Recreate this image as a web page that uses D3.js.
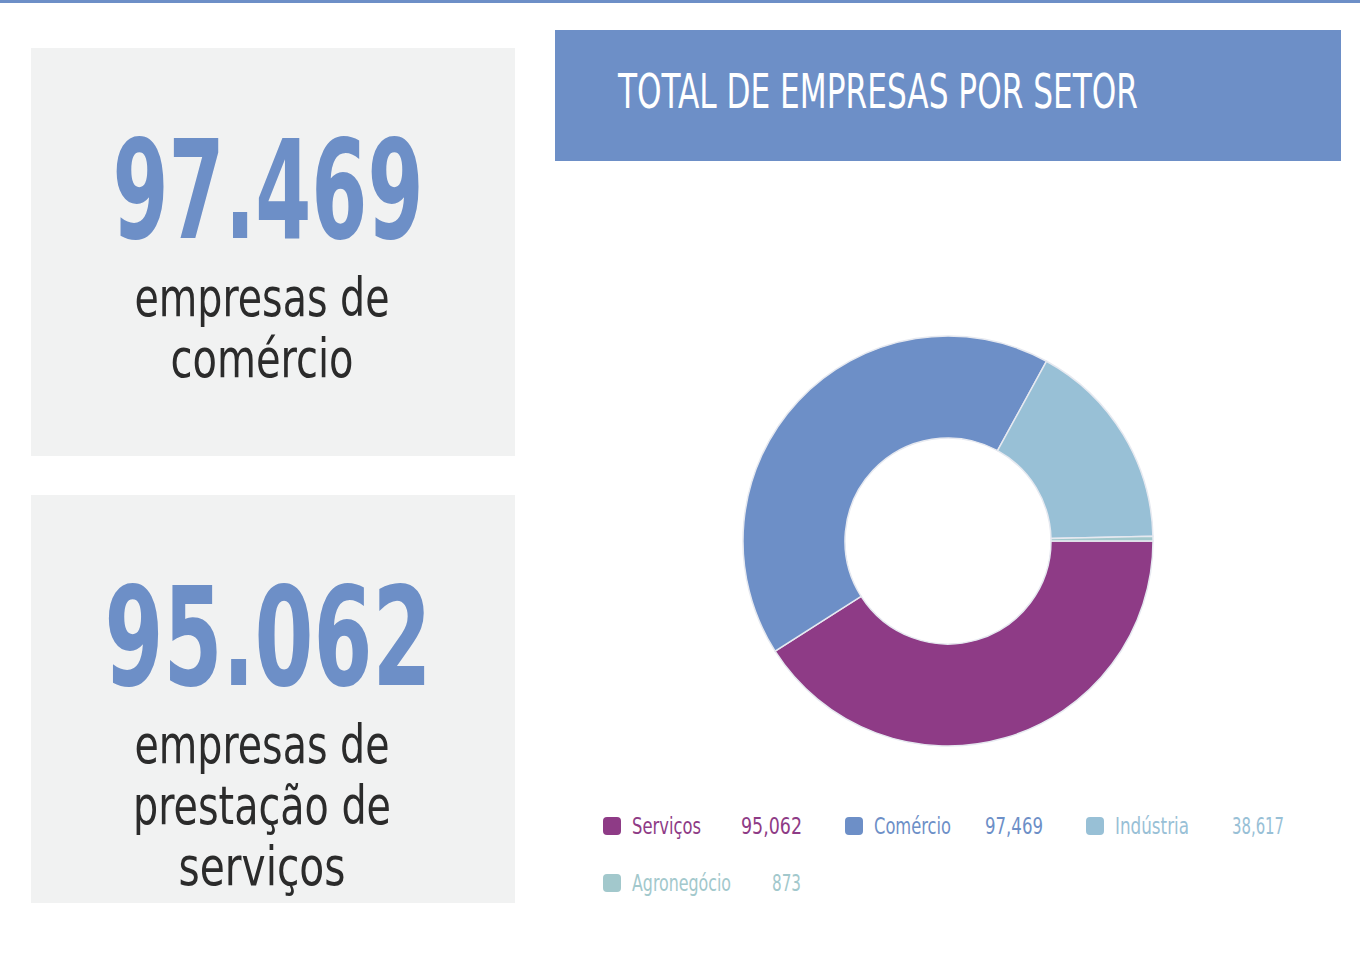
<!DOCTYPE html>
<html lang="pt">
<head>
<meta charset="utf-8">
<script src="https://d3js.org/d3.v7.min.js"></script>
<style>
body { margin: 0; background: #fff; }
svg text { font-family: "Liberation Sans Narrow", "DejaVu Sans Condensed", sans-serif; }
</style>
</head>
<body>
<svg width="1360" height="957"></svg>
<script>
var setores = ["Serviços", "Comércio", "Indústria", "Agronegócio"];
var valores = [95062, 97469, 38617, 873];
var cores = ["#8e3b86", "#6d8fc7", "#98c0d6", "#a2c8cc"];
var rotulos = ["95,062", "97,469", "38,617", "873"];

var svg = d3.select("svg");

svg.append("rect").attr("x", 0).attr("y", 0).attr("width", 1360).attr("height", 3).attr("fill", "#6d8fc7");

function texto(x, y, size, fill, len, anchor, t) {
  return svg.append("text").attr("x", x).attr("y", y).attr("font-size", size).attr("fill", fill)
    .attr("text-anchor", anchor).attr("textLength", len).attr("lengthAdjust", "spacingAndGlyphs").text(t);
}

// cards
var cards = [
  { y: 48, num: "97.469", numLen: 311, linhas: ["empresas de", "comércio"], lens: [255, 183] },
  { y: 495, num: "95.062", numLen: 327, linhas: ["empresas de", "prestação de", "serviços"], lens: [255, 258, 167] }
];
cards.forEach(function (c) {
  svg.append("rect").attr("x", 31).attr("y", c.y).attr("width", 484).attr("height", 408).attr("fill", "#f1f2f2");
  texto(268, c.y + 190, 138, "#6d8fc7", c.numLen, "middle", c.num).attr("font-weight", 700);
  c.linhas.forEach(function (l, i) {
    texto(262, c.y + 268 + i * 61, 54, "#2b2b2b", c.lens[i], "middle", l);
  });
});

// title
svg.append("rect").attr("x", 555).attr("y", 30).attr("width", 786).attr("height", 131).attr("fill", "#6d8fc7");
texto(618, 108, 48, "#fff", 520, "start", "TOTAL DE EMPRESAS POR SETOR");

// donut
var pie = d3.pie().sort(null).startAngle(Math.PI / 2).endAngle(Math.PI / 2 + 2 * Math.PI);
var arc = d3.arc().innerRadius(103).outerRadius(205);
var g = svg.append("g").attr("transform", "translate(948,541)");
g.selectAll("path").data(pie(valores)).enter().append("path")
  .attr("d", arc).attr("fill", function (d, i) { return cores[i]; })
  .attr("stroke", "#e6e9f0").attr("stroke-width", 1.5);

// legend
var pos = [[603, 826], [845, 826], [1086, 826], [603, 883]];
var valX = [741, 985, 1232, 772];
var labLen = [69, 77, 74, 99];
var valLen = [61, 58, 52, 29];
setores.forEach(function (s, i) {
  svg.append("rect").attr("x", pos[i][0]).attr("y", pos[i][1] - 9).attr("width", 18).attr("height", 18)
    .attr("rx", 4).attr("fill", cores[i]);
  texto(pos[i][0] + 29, pos[i][1] + 8, 23, cores[i], labLen[i], "start", s);
  texto(valX[i], pos[i][1] + 8, 23, cores[i], valLen[i], "start", rotulos[i]);
});
</script>
</body>
</html>
